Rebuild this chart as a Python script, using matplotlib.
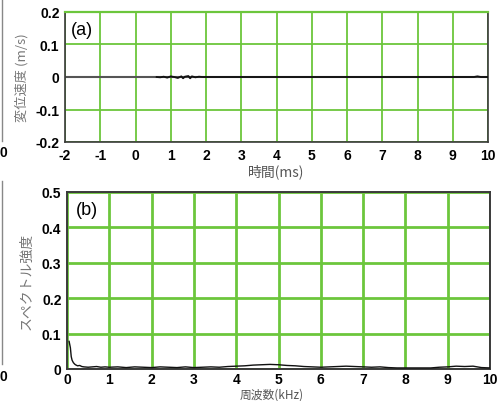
import matplotlib
matplotlib.use("Agg")
import matplotlib.pyplot as plt
from matplotlib.lines import Line2D

plt.rcParams["axes.unicode_minus"] = False

# ---- data ----
time_ms = [0.60, 0.70, 0.80, 0.90, 1.00, 1.10, 1.20, 1.30, 1.35, 1.40, 1.50, 1.55, 1.60, 1.70, 1.80, 1.90, 2.00, 3.00, 5.00, 7.00, 9.00, 9.60, 9.70, 9.80, 10.00]
velocity = [0.000, -0.001, 0.001, -0.002, 0.002, 0.000, -0.003, 0.002, -0.004, 0.001, 0.003, -0.004, 0.002, -0.001, 0.001, 0.000, 0.000, 0.000, 0.000, 0.000, 0.000, 0.000, 0.002, 0.000, 0.000]

freq_khz = [0.05, 0.08, 0.10, 0.12, 0.15, 0.18, 0.20, 0.25, 0.30, 0.35, 0.40, 0.50, 0.60, 0.70, 0.80, 0.90, 1.00,
            1.20, 1.40, 1.60, 1.80, 2.00, 2.20, 2.40, 2.60, 2.80, 3.00, 3.20, 3.40, 3.60, 3.80, 4.00,
            4.20, 4.40, 4.60, 4.80, 5.00, 5.20, 5.40, 5.60, 5.80, 6.00, 6.20, 6.40, 6.60, 6.80, 7.00,
            7.20, 7.40, 7.60, 7.80, 8.00, 8.20, 8.40, 8.60, 8.80, 9.00, 9.20, 9.40, 9.60, 9.80, 10.00]
spectrum = [0.078, 0.060, 0.035, 0.025, 0.018, 0.014, 0.012, 0.009, 0.010, 0.007, 0.006, 0.005, 0.006, 0.007, 0.005, 0.006, 0.005,
            0.006, 0.004, 0.006, 0.005, 0.004, 0.006, 0.005, 0.004, 0.006, 0.004, 0.005, 0.006, 0.005, 0.007, 0.008,
            0.009, 0.011, 0.012, 0.013, 0.012, 0.010, 0.009, 0.007, 0.006, 0.005, 0.006, 0.007, 0.008, 0.007, 0.006,
            0.005, 0.006, 0.004, 0.003, 0.003, 0.003, 0.003, 0.003, 0.005, 0.006, 0.008, 0.007, 0.008, 0.004, 0.003]

top_xticks = [-2, -1, 0, 1, 2, 3, 4, 5, 6, 7, 8, 9, 10]
top_yticks = [-0.2, -0.1, 0, 0.1, 0.2]
top_yticklabels = ["-0.2", "-0.1", "0", "0.1", "0.2"]
bot_xticks = [0, 1, 2, 3, 4, 5, 6, 7, 8, 9, 10]
bot_yticks = [0, 0.1, 0.2, 0.3, 0.4, 0.5]
bot_yticklabels = ["0", "0.1", "0.2", "0.3", "0.4", "0.5"]

GREEN = "#6cc63c"
FRAME = "#3a3a3a"
CJK = ["Noto Sans CJK JP", "DejaVu Sans"]
NUM = "Liberation Sans"

fig = plt.figure(figsize=(5.03, 4.02), dpi=100)
W, H = 503, 402

def rect(l, t, r, b):
    return [l / W, 1 - b / H, (r - l) / W, (b - t) / H]

ax1 = fig.add_axes(rect(65, 13, 488, 143))
ax2 = fig.add_axes(rect(67, 193, 490, 370))

# ---- top panel ----
ax1.set_xlim(-2, 10)
ax1.set_ylim(-0.2, 0.2)
ax1.set_xticks(top_xticks)
ax1.set_yticks(top_yticks)
ax1.set_yticklabels(top_yticklabels)
ax1.grid(True, color=GREEN, linewidth=1.3)
ax1.set_axisbelow(True)
ax1.axhline(0, color="#555555", linewidth=1.5, zorder=2)
ax1.plot(time_ms, velocity, color="#111111", linewidth=1.3, zorder=3)
for s in ["left", "bottom", "right"]:
    ax1.spines[s].set_color(FRAME)
    ax1.spines[s].set_linewidth(1.2)
ax1.spines["top"].set_color(GREEN)
ax1.spines["top"].set_linewidth(1.6)
ax1.tick_params(length=0, pad=4)
ax1.text(0.015, 0.93, "(a)", transform=ax1.transAxes, fontsize=13, family=NUM, va="top", ha="left")
ax1.set_xlabel("時間(ms)", family=CJK, fontsize=10, color="#555555", labelpad=1)
ax1.set_ylabel("変位速度 (m/s)", family=CJK, fontsize=9.5, color="#777777", labelpad=5)

# ---- bottom panel ----
ax2.set_xlim(0, 10)
ax2.set_ylim(0, 0.5)
ax2.set_xticks(bot_xticks)
ax2.set_yticks(bot_yticks)
ax2.set_yticklabels(bot_yticklabels)
ax2.grid(True, color=GREEN, linewidth=2.0)
ax2.set_axisbelow(True)
ax2.plot(freq_khz, spectrum, color="#111111", linewidth=1.0, zorder=3)
for s in ax2.spines.values():
    s.set_color(FRAME)
    s.set_linewidth(1.4)
ax2.tick_params(axis="x", length=0, pad=2)
ax2.tick_params(axis="y", length=0, pad=4)
ax2.text(0.02, 0.95, "(b)", transform=ax2.transAxes, fontsize=13, family=NUM, va="top", ha="left")
fig.text(272 / W, 0.5 / H, "周波数(kHz)", family=CJK, fontsize=8.5, color="#555555", ha="center", va="bottom")
ax2.set_ylabel("スペクトル強度", family=CJK, fontsize=10, color="#777777", labelpad=6)

for ax in (ax1, ax2):
    for lab in ax.get_xticklabels() + ax.get_yticklabels():
        lab.set_fontfamily(NUM)
        lab.set_fontweight("bold")
        lab.set_fontsize(10)

# ---- cropped remnants at the left edge ----
fig.text(0 / W, 1 - 153 / H, "0", fontsize=10, fontweight="bold", family=NUM, ha="left", va="center")
fig.text(0 / W, 1 - 377 / H, "0", fontsize=10, fontweight="bold", family=NUM, ha="left", va="center")
fig.add_artist(Line2D([1.5 / W, 1.5 / W], [1 - 0 / H, 1 - 142 / H], color="#888888", linewidth=1.0))
fig.add_artist(Line2D([1.5 / W, 1.5 / W], [1 - 182 / H, 1 - 365 / H], color="#888888", linewidth=1.0))

fig.savefig("out.png", dpi=100)
